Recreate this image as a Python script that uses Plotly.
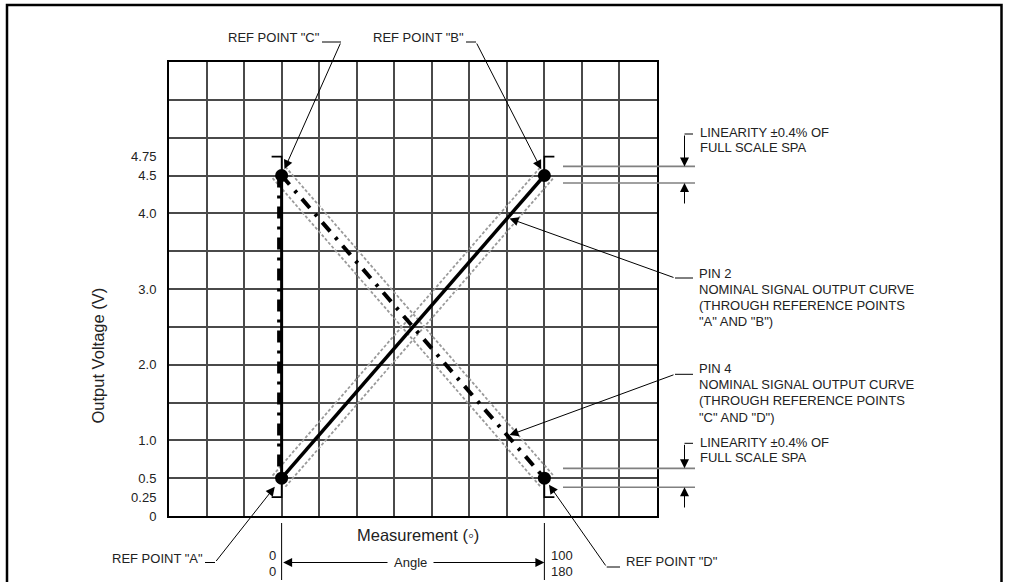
import math
import plotly.graph_objects as go

# ---------------- data ----------------
ref_names = ["A", "B", "C", "D"]
ref_x = [0, 100, 0, 100]            # measurement (% of travel)
ref_y = [0.5, 4.5, 4.5, 0.5]        # output voltage (V)
pin2_x = [0, 100]
pin2_y = [0.5, 4.5]
pin4_x = [0, 100]
pin4_y = [4.5, 0.5]
vert_x = [0, 0]
vert_y = [4.5, 0.5]
limit_levels = [4.75, 0.25]
lin_top = [4.62, 4.40]
lin_bot = [0.63, 0.38]
y_tickvals = [0, 0.25, 0.5, 1, 2, 3, 4, 4.5, 4.75]
y_ticktext = ["0", "0.25", "0.5", "1.0", "2.0", "3.0", "4.0", "4.5", "4.75"]
angle_start_labels = ["0", "0"]
angle_end_labels = ["100", "180"]
pin2_lines = ["PIN 2", "NOMINAL SIGNAL OUTPUT CURVE", "(THROUGH REFERENCE POINTS", "\"A\" AND \"B\")"]
pin4_lines = ["PIN 4", "NOMINAL SIGNAL OUTPUT CURVE", "(THROUGH REFERENCE POINTS", "\"C\" AND \"D\")"]
lin_lines = ["LINEARITY ±0.4% OF", "FULL SCALE SPA"]

# ---------------- layout geometry ----------------
W, H = 1009, 582
ML, MR, MT, MB = 169, 352, 62, 66
PW, PH = W - ML - MR, H - MT - MB
x_range = [-300 / 7, 1000 / 7]
y_range = [0, 6]
kx = PW / (x_range[1] - x_range[0])
ky = PH / (y_range[1] - y_range[0])

FONT = "Liberation Sans, Arial, sans-serif"
TXT = "#222222"
GRID = "#4a4a4a"


def X(v):
    return ML + (v - x_range[0]) * kx


def Y(v):
    return MT + (y_range[1] - v) * ky


def dx(p):
    return x_range[0] + (p - ML) / kx


def dy(p):
    return y_range[1] - (p - MT) / ky


def pxx(p):
    return (p - ML) / PW


def pyy(p):
    return (MT + PH - p) / PH


def band(xs, ys, off=8.5, ext=4):
    p0 = (X(xs[0]), Y(ys[0]))
    p1 = (X(xs[1]), Y(ys[1]))
    L = math.hypot(p1[0] - p0[0], p1[1] - p0[1])
    u = ((p1[0] - p0[0]) / L, (p1[1] - p0[1]) / L)
    n = (-u[1], u[0])
    out = []
    for s in (1, -1):
        a = (p0[0] - ext * u[0] + s * off * n[0], p0[1] - ext * u[1] + s * off * n[1])
        b = (p1[0] + ext * u[0] + s * off * n[0], p1[1] + ext * u[1] + s * off * n[1])
        out.append(([dx(a[0]), dx(b[0])], [dy(a[1]), dy(b[1])]))
    return out


fig = go.Figure()

# tolerance bands (gray dotted)
for xs, ys in band(pin2_x, pin2_y) + band(pin4_x, pin4_y):
    fig.add_trace(go.Scatter(x=xs, y=ys, mode="lines",
                             line=dict(color="#9a9a9a", width=1.8, dash="3px,2px"),
                             hoverinfo="skip", showlegend=False))

DASHDOT = "12px,8px,3px,8px"
# vertical reference line at 0
fig.add_trace(go.Scatter(x=[v - 2 / kx for v in vert_x], y=vert_y, mode="lines",
                         line=dict(color="black", width=5, dash=DASHDOT),
                         showlegend=False, hoverinfo="skip"))
fig.add_trace(go.Scatter(x=vert_x, y=vert_y, mode="lines",
                         line=dict(color="black", width=3),
                         showlegend=False, hoverinfo="skip"))
# pin 4 (dash-dot)
fig.add_trace(go.Scatter(x=pin4_x, y=pin4_y, mode="lines",
                         line=dict(color="black", width=4, dash=DASHDOT),
                         name="PIN 4", showlegend=False))
# pin 2 (solid)
fig.add_trace(go.Scatter(x=pin2_x, y=pin2_y, mode="lines",
                         line=dict(color="black", width=3.5),
                         name="PIN 2", showlegend=False))

# limit brackets
bl = 10 / kx
brackets = [
    ([ref_x[2] - bl, ref_x[2], ref_x[2]], [limit_levels[0], limit_levels[0], ref_y[2]]),
    ([ref_x[1], ref_x[1], ref_x[1] + bl], [ref_y[1], limit_levels[0], limit_levels[0]]),
    ([ref_x[0], ref_x[0], ref_x[0] - bl], [ref_y[0], limit_levels[1], limit_levels[1]]),
    ([ref_x[3], ref_x[3], ref_x[3] + bl], [ref_y[3], limit_levels[1], limit_levels[1]]),
]
for bx, by in brackets:
    fig.add_trace(go.Scatter(x=bx, y=by, mode="lines",
                             line=dict(color="black", width=1.6),
                             showlegend=False, hoverinfo="skip"))

# reference points
fig.add_trace(go.Scatter(x=ref_x, y=ref_y, mode="markers", text=ref_names,
                         marker=dict(color="black", size=13),
                         showlegend=False))

shapes = []
annotations = []


def hline_px(x0, x1, y, color="black", width=1):
    shapes.append(dict(type="line", xref="paper", yref="paper",
                       x0=pxx(x0), x1=pxx(x1), y0=pyy(y), y1=pyy(y),
                       line=dict(color=color, width=width)))


def text_px(text, x, y, xanchor="left", size=13, **kw):
    annotations.append(dict(text=text, xref="paper", yref="paper",
                            x=pxx(x), y=pyy(y), xanchor=xanchor, yanchor="middle",
                            showarrow=False, font=dict(family=FONT, size=size, color=TXT), **kw))


def arrow_data(xv, yv, tail_px, standoff=0, size=1.8):
    tx, ty = X(xv), Y(yv)
    annotations.append(dict(text="", x=xv, y=yv, xref="x", yref="y",
                            ax=tail_px[0] - tx, ay=tail_px[1] - ty,
                            showarrow=True, arrowhead=2, arrowsize=size,
                            arrowwidth=1, arrowcolor="black", standoff=standoff))


# outer frame
shapes.append(dict(type="rect", xref="paper", yref="paper",
                   x0=pxx(7), x1=pxx(1001.5), y0=pyy(620), y1=pyy(5),
                   line=dict(color="black", width=2.5), layer="above"))

# REF POINT labels with leaders
text_px('REF POINT "C"', 322, 37.7, xanchor="right")
hline_px(322, 341, 42)
arrow_data(ref_x[2], ref_y[2], (341, 42), standoff=7)

text_px('REF POINT "B"', 466, 37.7, xanchor="right")
hline_px(466, 476, 42)
arrow_data(ref_x[1], ref_y[1], (476, 42), standoff=7)

text_px('REF POINT "A"', 205, 558.3, xanchor="right")
hline_px(205, 215, 562.5)
arrow_data(ref_x[0], ref_y[0], (215, 562.5), standoff=11)

text_px('REF POINT "D"', 624, 561.7, xanchor="left")
hline_px(606.7, 620, 567)
arrow_data(ref_x[3], ref_y[3], (606.7, 567), standoff=8)

# PIN leaders
t = 0.86
for xs, ys, lines, y0 in ((pin2_x, pin2_y, pin2_lines, 273), (pin4_x, pin4_y, pin4_lines, 368.3)):
    xv = xs[0] + t * (xs[1] - xs[0])
    yv = ys[0] + t * (ys[1] - ys[0])
    tail_y = y0 + 5 if lines is pin2_lines else y0 + 6
    hline_px(675, 693, tail_y)
    arrow_data(xv, yv, (675, tail_y), standoff=2)
    for i, ln in enumerate(lines):
        text_px(ln, 697, y0 + i * 16.3)

# linearity indicators
for levels, text_y, top_y, bot_y in ((lin_top, 132.3, 134, 205), (lin_bot, 442.3, 443.3, 509)):
    for lv in levels:
        shapes.append(dict(type="line", xref="paper", yref="y",
                           x0=pxx(563), x1=pxx(695), y0=lv, y1=lv,
                           line=dict(color="#808080", width=1.6)))
    hline_px(684.5, 693, top_y)
    annotations.append(dict(text="", xref="paper", yref="y", x=pxx(684.5), y=levels[0],
                            ax=0, ay=top_y - Y(levels[0]), showarrow=True, arrowhead=2,
                            arrowsize=1.8, arrowwidth=1, arrowcolor="black"))
    annotations.append(dict(text="", xref="paper", yref="y", x=pxx(684.5), y=levels[1],
                            ax=0, ay=bot_y - Y(levels[1]), showarrow=True, arrowhead=2,
                            arrowsize=1.8, arrowwidth=1, arrowcolor="black"))
    for i, ln in enumerate(lin_lines):
        text_px(ln, 698, text_y + i * 15.5)

# angle dimension at bottom
for xv in (ref_x[0], ref_x[1]):
    shapes.append(dict(type="line", xref="x", yref="paper", x0=xv, x1=xv,
                       y0=pyy(523), y1=pyy(580), line=dict(color="black", width=1)))
annotations.append(dict(text="", xref="x", yref="paper", x=ref_x[1], y=pyy(562.5),
                        axref="x", ax=ref_x[0], ayref="pixel", ay=0,
                        showarrow=True, arrowhead=2, startarrowhead=2, arrowside="end+start",
                        arrowsize=1.8, startarrowsize=1.8, arrowwidth=1, arrowcolor="black"))
annotations.append(dict(text="Angle", xref="paper", yref="paper", x=pxx(410.7), y=pyy(562.5),
                        xanchor="center", yanchor="middle", showarrow=False, bgcolor="white",
                        borderpad=6, font=dict(family=FONT, size=13, color=TXT)))
for i, (s, e) in enumerate(zip(angle_start_labels, angle_end_labels)):
    yy = 555 + i * 16.5
    annotations.append(dict(text=s, xref="x", yref="paper", x=ref_x[0], y=pyy(yy),
                            xanchor="right", yanchor="middle", xshift=-4, showarrow=False,
                            font=dict(family=FONT, size=13, color=TXT)))
    annotations.append(dict(text=e, xref="x", yref="paper", x=ref_x[1], y=pyy(yy),
                            xanchor="left", yanchor="middle", xshift=5, showarrow=False,
                            font=dict(family=FONT, size=13, color=TXT)))

# axis titles
text_px("Measurement (◦)", 418.3, 535, xanchor="center", size=16.5)
annotations.append(dict(text="Output Voltage (V)", xref="paper", yref="paper",
                        x=pxx(97), y=pyy(355.5), xanchor="center", yanchor="middle",
                        textangle=-90, showarrow=False,
                        font=dict(family=FONT, size=16.5, color=TXT)))

fig.update_layout(
    width=W, height=H,
    margin=dict(l=ML, r=MR, t=MT, b=MB, pad=0),
    paper_bgcolor="white", plot_bgcolor="white",
    template="none",
    showlegend=False,
    font=dict(family=FONT, size=13, color=TXT),
    shapes=shapes,
    annotations=annotations,
    xaxis=dict(range=x_range, tickmode="linear", tick0=0, dtick=100 / 7,
               showticklabels=False, ticks="", showgrid=True, gridcolor=GRID, gridwidth=1.5,
               zeroline=False, showline=True, mirror=True, linecolor="black", linewidth=2,
               fixedrange=True),
    yaxis=dict(range=y_range, tickmode="array", tickvals=y_tickvals, ticktext=y_ticktext,
               showgrid=False, zeroline=False, showline=True, mirror=True,
               linecolor="black", linewidth=2, ticks="", ticklabelstandoff=8,
               tickfont=dict(family=FONT, size=13, color=TXT),
               minor=dict(tickmode="linear", tick0=0, dtick=0.5, showgrid=True,
                          gridcolor=GRID, gridwidth=1.5, ticks=""),
               fixedrange=True),
)

fig.write_html(
    "out.html",
    config={"displayModeBar": False},
    post_script="document.body.style.margin='0';document.body.style.overflow='hidden';",
)
